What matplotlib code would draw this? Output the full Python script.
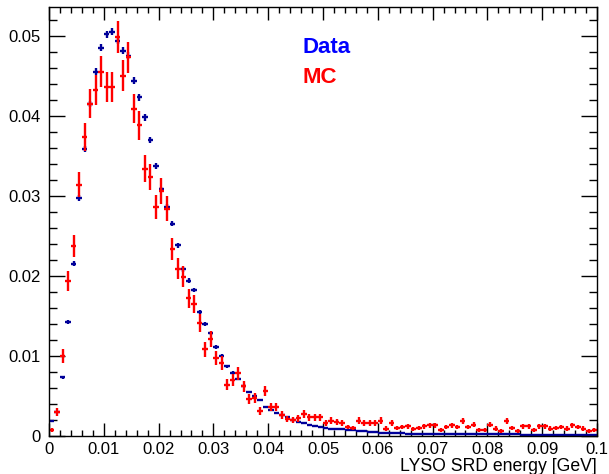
import numpy as np
import matplotlib
import matplotlib.pyplot as plt
from matplotlib.ticker import MultipleLocator

matplotlib.use('Agg')
plt.rcParams['font.family'] = ['Liberation Sans', 'DejaVu Sans']

# 100 bins of 1 MeV between 0 and 0.1 GeV
n_bins = 100
e_min, e_max = 0.0, 0.1

# normalised LYSO SRD energy, data
data = [
    0.0018, 0.0030, 0.0073, 0.0142, 0.0215, 0.0297, 0.0359, 0.0415, 0.0455, 0.0485,
    0.0502, 0.0505, 0.0494, 0.0481, 0.0475, 0.0444, 0.0423, 0.0398, 0.0370, 0.0337,
    0.0308, 0.0286, 0.0265, 0.0238, 0.0208, 0.0194, 0.0182, 0.0155, 0.0140, 0.0128,
    0.0111, 0.0100, 0.0087, 0.0079, 0.0071, 0.0062, 0.0055, 0.0050, 0.0045, 0.0036,
    0.0032, 0.0029, 0.0026, 0.0023, 0.0020, 0.0017, 0.0016, 0.0014, 0.0012, 0.0011,
    0.0010, 0.0009, 0.0009, 0.0008, 0.0007, 0.0007, 0.0006, 0.0006, 0.0005, 0.0005,
    0.0004, 0.0004, 0.0003, 0.0003, 0.0003, 0.00025, 0.00025, 0.00025, 0.00025, 0.00025,
    0.0002, 0.0002, 0.0002, 0.0002, 0.0002, 0.0002, 0.0002, 0.0002, 0.0002, 0.0002,
    0.0002, 0.0002, 0.0002, 0.0002, 0.0002, 0.0002, 0.00015, 0.00015, 0.00015, 0.00015,
    0.00015, 0.00015, 0.00015, 0.00015, 0.00015, 0.00015, 0.00015, 0.00015, 0.00015, 0.00015,
]

# normalised LYSO SRD energy, simulation
mc = [
    0.0007, 0.0030, 0.0100, 0.0194, 0.0237, 0.0314, 0.0374, 0.0415, 0.0432, 0.0455,
    0.0436, 0.0436, 0.0498, 0.0450, 0.0473, 0.0409, 0.0388, 0.0334, 0.0323, 0.0286,
    0.0306, 0.0284, 0.0233, 0.0209, 0.0199, 0.0172, 0.0165, 0.0141, 0.0108, 0.0121,
    0.0097, 0.0091, 0.0064, 0.0070, 0.0078, 0.0062, 0.0046, 0.0047, 0.0031, 0.0056,
    0.0036, 0.0036, 0.0026, 0.0021, 0.0020, 0.0022, 0.0027, 0.0023, 0.0023, 0.0023,
    0.0016, 0.0019, 0.0017, 0.0016, 0.0011, 0.0010, 0.0019, 0.0016, 0.0016, 0.0016,
    0.0019, 0.0009, 0.0016, 0.0010, 0.0011, 0.0012, 0.0008, 0.0010, 0.0012, 0.0013,
    0.0013, 0.0007, 0.0011, 0.0013, 0.0011, 0.0018, 0.0011, 0.0014, 0.0007, 0.0007,
    0.0014, 0.0009, 0.0006, 0.0018, 0.0010, 0.0006, 0.0012, 0.0012, 0.0007, 0.0012,
    0.0012, 0.0009, 0.0010, 0.0011, 0.0009, 0.0013, 0.0011, 0.0009, 0.0006, 0.0007,
]

# effective number of entries, used for the Poisson errors after normalisation
n_data = 250000
n_mc = 12300

edges = np.linspace(e_min, e_max, n_bins + 1)
centers = 0.5 * (edges[:-1] + edges[1:])
half_width = 0.5 * (edges[1] - edges[0])

data = np.array(data)
mc = np.array(mc)
data_err = np.sqrt(data / n_data)
mc_err = np.sqrt(mc / n_mc)

fig = plt.figure(figsize=(6.09, 4.74), dpi=100)
ax = fig.add_axes([49 / 609, 38.2 / 474, 548 / 609, 428.5 / 474])

ax.errorbar(centers, data, xerr=half_width, yerr=data_err, fmt='none',
            ecolor='#000099', elinewidth=1.7, capsize=0)
ax.errorbar(centers, mc, xerr=half_width, yerr=mc_err, fmt='none',
            ecolor='#ff0000', elinewidth=1.7, capsize=0)

ax.set_xlim(e_min, e_max)
ax.set_ylim(0, 0.05356)

ax.xaxis.set_major_locator(MultipleLocator(0.01))
ax.xaxis.set_minor_locator(MultipleLocator(0.002))
ax.yaxis.set_major_locator(MultipleLocator(0.01))
ax.yaxis.set_minor_locator(MultipleLocator(0.002))
ax.xaxis.set_major_formatter(lambda v, pos: '0' if abs(v) < 1e-9 else f'{v:g}')
ax.yaxis.set_major_formatter(lambda v, pos: '0' if abs(v) < 1e-9 else f'{v:g}')

ax.tick_params(axis='both', which='both', direction='in', top=True, right=True,
               width=1.0, color='black', labelsize=12)
ax.tick_params(axis='x', which='major', length=9.2, pad=4.3)
ax.tick_params(axis='x', which='minor', length=4.6)
ax.tick_params(axis='y', which='major', length=11.8, pad=5.8)
ax.tick_params(axis='y', which='minor', length=5.9)
for spine in ax.spines.values():
    spine.set_linewidth(1.0)

# axis title sits right-aligned under the last tick label
ax.set_xlabel('LYSO SRD energy [GeV]', fontsize=12.7)
ax.xaxis.set_label_coords(1.0, -0.0814)
ax.xaxis.label.set_horizontalalignment('right')
ax.xaxis.label.set_verticalalignment('baseline')

ax.text(0.4635, 0.8926, 'Data', transform=ax.transAxes, color='#0000ff',
        fontsize=16, fontweight='bold', va='baseline', ha='left')
ax.text(0.4635, 0.824, 'MC', transform=ax.transAxes, color='#ff0000',
        fontsize=16, fontweight='bold', va='baseline', ha='left')

fig.savefig('out.png', dpi=100)
